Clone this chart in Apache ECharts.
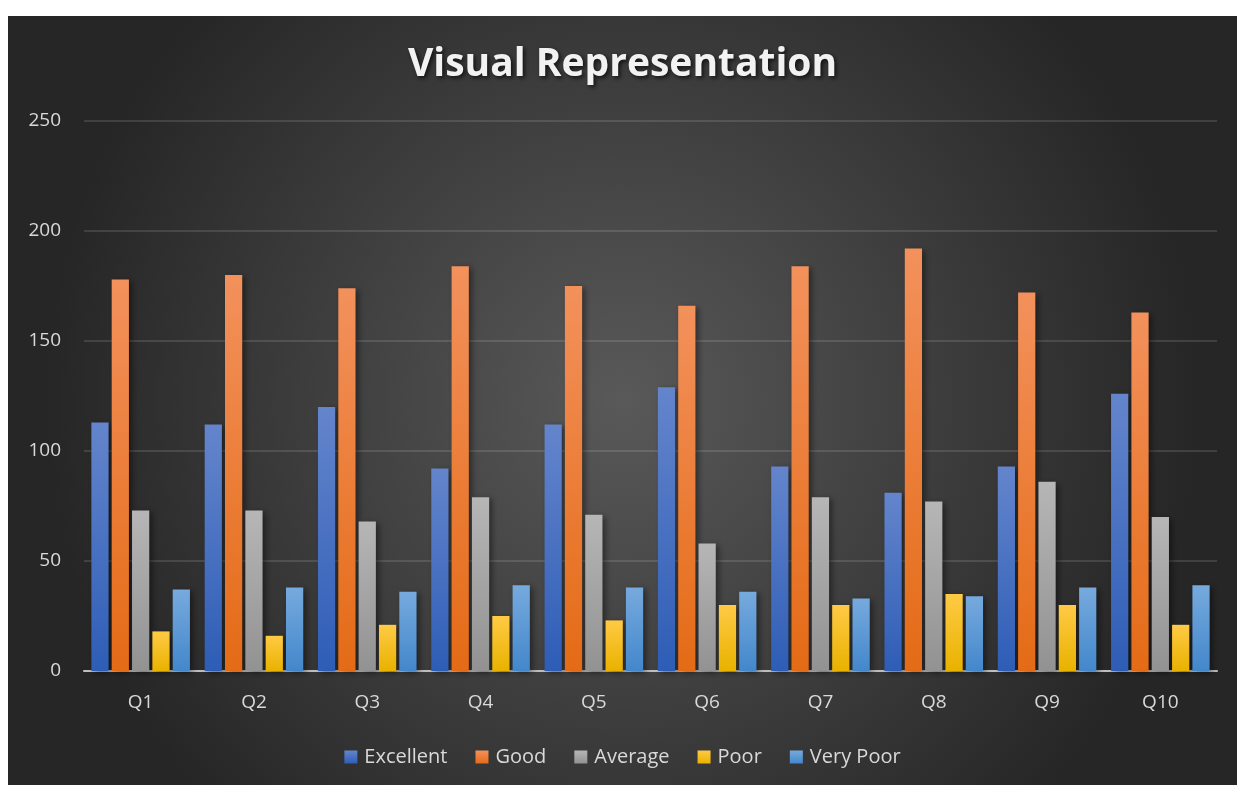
<!DOCTYPE html>
<html>
<head>
<meta charset="utf-8">
<script src="https://cdn.jsdelivr.net/npm/echarts@6/dist/echarts.min.js"></script>
<style>
  html, body { margin:0; padding:0; background:#ffffff; width:1237px; height:785px; overflow:hidden; }
  #chart { position:absolute; left:8px; top:16px; width:1229px; height:769px; }
</style>
</head>
<body>
<div id="chart"></div>
<script>
const categories = ['Q1','Q2','Q3','Q4','Q5','Q6','Q7','Q8','Q9','Q10'];
const excellent = [113,112,120,92,112,129,93,81,93,126];
const good      = [178,180,174,184,175,166,184,192,172,163];
const average   = [73,73,68,79,71,58,79,77,86,70];
const poor      = [18,16,21,25,23,30,30,35,30,21];
const veryPoor  = [37,38,36,39,38,36,33,34,38,39];
const seriesNames = ['Excellent','Good','Average','Poor','Very Poor'];
const yTicks = [0,50,100,150,200,250];

const grads = [
  ['#6485cc','#2e5db6'],
  ['#f3915c','#e46b16'],
  ['#b6b6b6','#929292'],
  ['#ffca45','#e9b200'],
  ['#77aade','#4387cb']
];
function grad(c){
  return new echarts.graphic.LinearGradient(0,0,0,1,[{offset:0,color:c[0]},{offset:1,color:c[1]}]);
}
const dataSets = [excellent, good, average, poor, veryPoor];

const chart = echarts.init(document.getElementById('chart'));
chart.setOption({
  animation:false,
  backgroundColor: new echarts.graphic.RadialGradient(0.5,0.5,0.75,[
    {offset:0,color:'#595959'},{offset:1,color:'#262626'}
  ]),
  title:{
    text:'Visual Representation',
    left:'center', top:24,
    textStyle:{
      color:'#f2f2f2', fontFamily:'Open Sans', fontWeight:'bold', fontSize:39,
      textShadowColor:'rgba(0,0,0,0.7)', textShadowBlur:4, textShadowOffsetX:2, textShadowOffsetY:2
    }
  },
  legend:{
    data: seriesNames.map((n,i)=>({name:n, itemStyle:{color:grad(grads[i])}})),
    bottom:13, left:'center',
    itemWidth:13, itemHeight:13, itemGap:28,
    icon:'rect',
    textStyle:{color:'#d9d9d9', fontSize:20, fontFamily:'Open Sans', padding:[0,0,0,2]}
  },
  grid:{left:76, right:20, top:105, bottom:114, containLabel:false},
  xAxis:{
    type:'category', data:categories,
    axisTick:{show:false},
    axisLine:{lineStyle:{color:'#bfbfbf', width:2}},
    axisLabel:{color:'#d9d9d9', fontSize:19, fontFamily:'Open Sans', margin:22}
  },
  yAxis:{
    type:'value', min:0, max:250, interval:50,
    axisLine:{show:false}, axisTick:{show:false},
    axisLabel:{color:'#d9d9d9', fontSize:19, fontFamily:'Open Sans', margin:23,
      formatter:v=> yTicks.includes(v) ? String(v) : ''},
    splitLine:{lineStyle:{color:'rgba(255,255,255,0.12)', width:2}}
  },
  series: seriesNames.map((n,i)=>({
    name:n, type:'bar', data:dataSets[i],
    barCategoryGap:'13%', barGap:'18%',
    itemStyle:{color:grad(grads[i]), shadowColor:'rgba(0,0,0,0.45)', shadowBlur:6, shadowOffsetX:3, shadowOffsetY:2}
  }))
});
</script>
</body>
</html>
